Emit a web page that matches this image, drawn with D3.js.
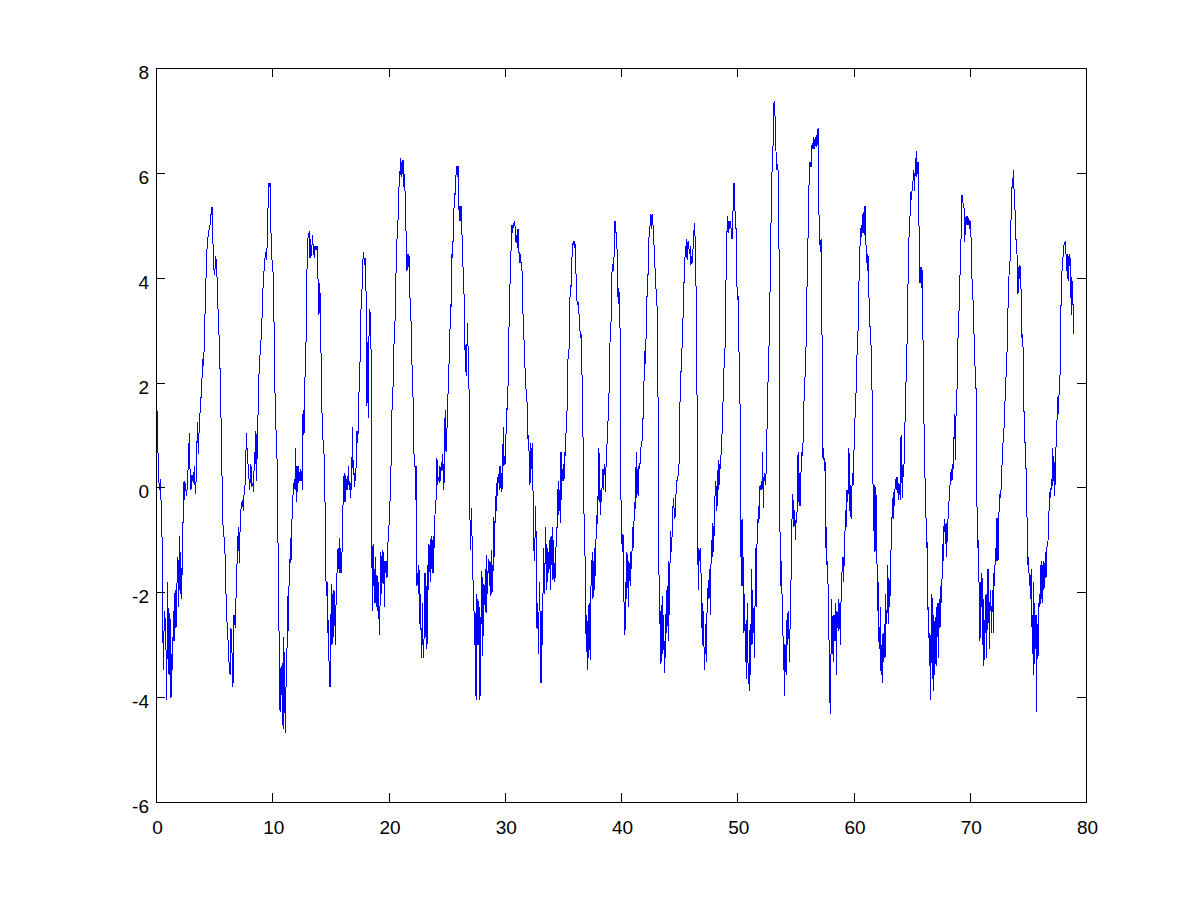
<!DOCTYPE html>
<html>
<head>
<meta charset="utf-8">
<script src="https://cdn.jsdelivr.net/npm/d3@7"></script>
<style>
  html, body { margin: 0; padding: 0; background: #fff; }
  svg { display: block; }
  .tick text { font-family: "Liberation Sans", Arial, Helvetica, sans-serif; font-size: 19px; fill: #000; }
</style>
</head>
<body>
<svg id="chart" width="1200" height="901"></svg>
<script>
// ---------------- data ----------------
const xTicks = [0, 10, 20, 30, 40, 50, 60, 70, 80];
const yTicks = [-6, -4, -2, 0, 2, 4, 6, 8];
const xDomain = [0, 80];
const yDomain = [-6, 8];

// time / value pairs, segment 0 - 16
const traceA = [
[0.00,1.80],[0.12,1.32],[0.20,0.32],[0.29,-0.04],[0.40,0.16],[0.46,-0.60],[0.52,-0.96],[0.57,-2.32],[0.63,-3.49],[0.72,-2.36],[0.83,-2.61],[0.92,-4.05],[1.00,-1.80],[1.12,-3.57],[1.20,-2.40],[1.29,-4.01],[1.35,-3.17],[1.43,-3.49],[1.49,-2.36],[1.55,-2.93],[1.64,-1.96],[1.72,-2.69],[1.81,-1.80],[1.89,-1.32],[1.95,-2.28],[2.01,-0.92],[2.07,-2.04],[2.12,-1.24],[2.21,-2.12],[2.27,-1.16],[2.35,-0.44],[2.41,0.12],[2.47,-0.24],[2.52,0.08],[2.64,-0.16],[2.72,0.16],[2.81,0.64],[2.87,1.04],[2.93,0.32],[3.01,-0.04],[3.10,0.24],[3.21,0.08],[3.30,0.40],[3.38,-0.12],[3.47,0.20],[3.56,1.24],[3.64,0.64],[3.73,1.24],[3.84,1.60],[3.93,1.92],[4.02,2.44],[4.10,2.32],[4.16,2.85],[4.24,3.49],[4.36,4.45],[4.45,4.73],[4.53,4.89],[4.62,4.97],[4.70,5.05],[4.76,5.33],[4.82,5.33],[4.88,4.85],[4.96,4.21],[5.05,4.05],[5.13,4.41],[5.22,4.25],[5.31,3.53],[5.39,3.09],[5.48,2.53],[5.56,1.72],[5.65,0.64],[5.74,-0.64],[5.82,-0.88],[5.91,-1.08],[5.99,-1.64],[6.05,-2.36],[6.14,-2.69],[6.22,-3.01],[6.31,-3.49],[6.37,-3.57],[6.45,-2.69],[6.54,-3.17],[6.62,-3.81],[6.71,-2.44],[6.83,-2.69],[6.91,-1.80],[7.00,-1.28],[7.08,-0.76],[7.17,-1.44],[7.26,-0.52],[7.34,-0.36],[7.43,-0.24],[7.51,-0.44],[7.60,0.00],[7.69,0.08],[7.77,1.04],[7.86,0.60],[7.97,0.28],[8.06,-0.04],
[8.17,0.44],[8.23,0.00],[8.32,0.08],[8.40,-0.08],[8.46,0.68],[8.55,0.44],[8.60,1.08],[8.66,0.12],[8.72,1.00],[8.80,1.56],[8.89,2.44],[8.98,2.57],[9.06,2.93],[9.15,3.37],[9.23,4.01],[9.32,4.17],[9.41,4.49],[9.49,4.33],[9.58,4.69],[9.66,5.61],[9.72,5.81],[9.78,5.73],[9.83,5.81],[9.89,4.89],[9.94,4.37],[10.04,4.29],[10.12,3.73],[10.21,2.08],[10.29,1.24],[10.38,0.84],[10.47,-0.04],[10.52,-2.04],[10.61,-3.05],[10.67,-4.29],[10.75,-3.45],[10.81,-3.41],[10.87,-4.53],[10.95,-2.85],[11.00,-4.61],[11.06,-3.13],[11.12,-4.69],[11.21,-3.45],[11.27,-3.09],[11.33,-2.08],[11.38,-2.73],[11.44,-1.88],[11.50,-1.72],[11.56,-0.96],[11.61,-1.44],[11.67,-0.84],[11.73,-0.36],[11.79,-0.12],[11.84,0.00],[11.90,0.16],[11.96,-0.04],[12.01,0.76],[12.07,-0.28],[12.13,0.40],[12.19,-0.08],[12.27,0.40],[12.36,0.12],[12.42,0.36],[12.47,0.12],[12.53,0.32],[12.59,-0.04],[12.65,1.48],[12.73,1.00],[12.82,2.12],[12.90,2.69],[12.99,4.17],[13.05,4.73],[13.10,4.77],[13.19,4.89],[13.25,4.37],[13.31,4.73],[13.39,4.41],[13.45,4.81],[13.54,4.53],[13.62,4.37],[13.68,4.61],[13.76,4.53],[13.85,4.61],[13.91,4.01],[13.97,3.93],[14.02,3.29],[14.08,3.89],[14.14,3.49],[14.22,2.12],[14.31,1.08],[14.39,0.84],[14.48,0.56],[14.54,-0.28],[14.59,-1.36],[14.65,-2.08],[14.71,-1.80],[14.77,-2.77],[14.82,-2.53],[14.91,-3.65],[14.97,-3.81],[15.03,-3.01],[15.08,-1.84],[15.14,-3.01],[15.20,-2.04],[15.26,-2.85],[15.31,-1.96],[15.37,-2.28],[15.43,-3.01],[15.48,-2.28],[15.57,-1.64],[15.66,-1.16],[15.71,-1.56],[15.77,-0.96],[15.83,-1.64],[15.89,-1.16],[15.94,-1.64],[16.00,-1.24],[16.06,-0.84]
];

// segment 16 - 32.5
const traceB = [
[16.11,0.08],[16.20,0.28],[16.26,-0.28],[16.32,0.24],[16.37,-0.04],[16.43,0.16],[16.49,-0.04],[16.54,0.40],[16.60,0.04],[16.66,0.12],[16.72,-0.20],[16.77,0.08],[16.83,-0.04],[16.89,1.16],[16.95,0.36],[17.00,0.52],[17.06,0.00],[17.12,0.28],[17.18,0.12],[17.23,0.60],[17.29,1.08],[17.35,0.84],[17.41,1.24],[17.46,1.80],[17.55,2.40],[17.63,3.37],[17.72,3.77],[17.81,4.37],[17.86,4.49],[17.92,4.25],[17.98,4.37],[18.04,4.21],[18.09,3.33],[18.15,1.56],[18.21,2.77],[18.27,1.32],[18.32,2.85],[18.38,3.41],[18.44,3.29],[18.49,2.97],[18.55,-0.60],[18.61,-2.36],[18.67,-1.08],[18.72,-1.88],[18.78,-1.56],[18.84,-2.20],[18.90,-1.32],[18.95,-2.28],[19.01,-1.68],[19.07,-2.36],[19.13,-1.80],[19.18,-2.48],[19.24,-2.81],[19.30,-1.72],[19.35,-1.24],[19.41,-2.04],[19.47,-1.20],[19.53,-1.84],[19.58,-1.24],[19.64,-2.28],[19.70,-1.40],[19.76,-1.64],[19.81,-1.40],[19.87,-1.72],[19.93,-1.08],[19.99,-1.00],[20.04,-0.76],[20.10,-0.36],[20.16,-0.16],[20.22,0.44],[20.27,1.08],[20.33,1.80],[20.39,1.92],[20.44,2.32],[20.50,3.05],[20.56,3.17],[20.62,3.97],[20.67,4.21],[20.73,4.73],[20.79,4.89],[20.85,5.33],[20.90,5.73],[20.96,5.77],[21.02,6.29],[21.08,5.93],[21.13,6.21],[21.19,5.97],[21.25,6.25],[21.30,5.73],[21.36,5.97],[21.42,5.65],[21.48,5.33],[21.53,4.49],[21.59,4.13],[21.65,4.45],[21.71,4.21],[21.76,4.45],[21.82,3.97],[21.88,3.25],[21.94,3.17],[21.99,2.61],[22.05,2.12],[22.11,1.72],[22.17,0.80],[22.22,0.48],[22.28,0.40],[22.34,-0.24],[22.39,0.40],[22.45,-1.88],[22.51,-1.64],[22.57,-2.04],[22.62,-1.48],[22.68,-2.61],[22.74,-2.04],[22.80,-2.77],[22.85,-3.25],[22.91,-2.20],[22.97,-3.01],[23.03,-3.25],[23.08,-2.53],[23.14,-1.64],[23.20,-2.85],[23.25,-1.88],[23.31,-3.09],[23.37,-1.48],[23.43,-1.96],[23.48,-1.08],[23.54,-1.40],[23.60,-1.80],[23.66,-0.92],[23.71,-1.56],[23.77,-1.00],[23.83,-1.64],[23.89,-0.92],[23.94,-1.16],[24.00,-0.52],[24.06,-0.28],[24.12,-0.20],[24.17,0.56],[24.23,0.04],[24.29,0.20],
[24.37,0.08],[24.43,0.40],[24.49,0.12],[24.54,0.48],[24.60,0.32],[24.66,0.64],[24.72,0.24],[24.77,-0.04],[24.83,1.16],[24.89,1.48],[24.95,0.68],[25.00,1.04],[25.06,1.20],[25.12,1.80],[25.18,2.32],[25.23,2.40],[25.29,3.01],[25.35,3.49],[25.40,3.45],[25.46,4.45],[25.52,4.37],[25.58,5.01],[25.63,5.29],[25.69,5.61],[25.75,5.57],[25.81,5.97],[25.86,6.13],[25.92,5.93],[25.98,6.13],[26.04,5.53],[26.09,5.09],[26.15,5.37],[26.21,5.09],[26.26,5.37],[26.32,4.85],[26.38,4.33],[26.44,4.09],[26.49,3.77],[26.55,3.09],[26.61,2.20],[26.67,2.73],[26.72,2.12],[26.78,3.13],[26.84,2.69],[26.90,2.20],[26.95,1.60],[27.01,-0.60],[27.07,-1.20],[27.13,-0.40],[27.18,-0.88],[27.24,-1.68],[27.30,-1.84],[27.35,-2.28],[27.41,-3.01],[27.47,-2.40],[27.53,-4.05],[27.58,-2.04],[27.64,-2.20],[27.70,-3.01],[27.76,-2.16],[27.81,-2.40],[27.87,-4.05],[27.93,-2.48],[27.99,-2.61],[28.04,-1.60],[28.10,-3.21],[28.16,-2.48],[28.21,-1.84],[28.27,-2.24],[28.33,-1.56],[28.39,-2.40],[28.44,-1.28],[28.50,-2.04],[28.56,-1.60],[28.62,-1.36],[28.67,-1.88],[28.73,-1.40],[28.79,-2.08],[28.85,-1.20],[28.90,-2.04],[28.96,-1.48],[29.02,-1.60],[29.07,-0.56],[29.13,-1.32],[29.19,-0.16],[29.25,-0.44],[29.30,0.08],[29.36,-0.16],[29.42,0.20],[29.48,0.08],[29.53,0.40],[29.59,-0.04],[29.65,0.40],[29.71,0.12],[29.76,-0.08],[29.82,0.48],[29.88,1.16],[29.93,0.40],[29.99,0.60],[30.05,0.44],[30.11,1.04],[30.16,1.52],[30.22,1.48],[30.28,1.92],[30.34,2.61],[30.39,3.45],[30.45,3.85],[30.51,4.45],[30.57,4.57],[30.62,5.01],[30.68,4.85],[30.74,5.05],[30.80,5.01],[30.85,5.09],[30.91,4.89],[30.97,4.69],[31.02,4.81],[31.08,4.57],[31.14,4.93],[31.20,4.49],[31.25,4.49],[31.31,4.29],[31.37,4.45],[31.43,4.13],[31.48,4.17],[31.54,3.65],[31.60,3.01],[31.66,2.81],[31.71,2.57],[31.77,2.04],[31.83,1.88],[31.88,1.72],[31.94,1.56],[32.00,0.92],[32.06,1.00],[32.11,0.44],[32.17,0.04],[32.23,0.84],[32.29,0.68],[32.34,0.36],[32.40,0.84],[32.46,-0.96],[32.51,-1.16]
];

// segment 32.5 - 49
const traceC = [
[32.54,-1.40],[32.60,-1.00],[32.66,-0.36],[32.71,-1.16],[32.77,-2.69],[32.83,-2.20],[32.89,-3.17],[32.94,-2.44],[33.00,-1.80],[33.06,-2.77],[33.12,-3.73],[33.17,-2.36],[33.23,-3.01],[33.29,-2.04],[33.35,-1.16],[33.40,-2.04],[33.46,-1.48],[33.52,-0.76],[33.57,-1.96],[33.63,-1.08],[33.69,-1.80],[33.75,-1.24],[33.80,-1.64],[33.86,-1.00],[33.92,-1.96],[33.98,-0.92],[34.03,-1.48],[34.09,-0.76],[34.15,-1.76],[34.21,-1.00],[34.26,-1.80],[34.32,-1.56],[34.38,-1.72],[34.43,-0.76],[34.49,-0.84],[34.55,-0.20],[34.61,0.12],[34.66,-0.52],[34.72,-0.04],[34.78,-0.68],[34.84,0.68],[34.89,-0.24],[34.95,0.36],[35.01,0.12],[35.07,0.44],[35.12,0.16],[35.18,0.68],[35.24,0.60],[35.29,1.32],[35.35,1.36],[35.41,2.36],[35.47,2.53],[35.52,2.53],[35.58,3.33],[35.64,3.85],[35.70,3.81],[35.75,4.29],[35.81,4.45],[35.87,4.65],[35.93,4.69],[35.98,4.57],[36.04,4.69],[36.10,4.21],[36.15,3.97],[36.21,3.57],[36.27,3.49],[36.33,3.53],[36.38,3.33],[36.44,3.17],[36.50,2.85],[36.56,2.93],[36.61,2.20],[36.67,2.12],[36.73,1.00],[36.79,-0.48],[36.84,-0.52],[36.90,-1.24],[36.96,-2.28],[37.01,-3.13],[37.07,-2.44],[37.13,-3.49],[37.19,-2.24],[37.24,-3.25],[37.30,-2.20],[37.36,-3.29],[37.42,-1.88],[37.47,-1.64],[37.53,-1.24],[37.59,-2.12],[37.65,-1.40],[37.70,-1.96],[37.76,-1.16],[37.82,-1.68],[37.87,-0.52],[37.93,-0.76],[37.99,-0.16],[38.05,-0.24],[38.10,0.76],[38.16,0.04],[38.22,-0.52],[38.28,-0.04],[38.33,-0.28],[38.39,0.16],[38.45,0.36],[38.51,-0.04],[38.56,0.44],[38.62,0.32],[38.68,-0.08],[38.73,0.68],[38.79,0.76],[38.85,1.24],[38.91,1.28],[38.96,1.72],[39.02,2.28],[39.08,3.09],[39.14,3.13],[39.19,3.93],[39.25,4.21],[39.31,4.25],[39.37,4.13],[39.42,4.61],[39.48,5.09],[39.54,5.05],[39.60,4.69],[39.65,4.65],[39.71,3.81],[39.77,3.49],[39.82,3.81],[39.88,3.21],[39.94,2.93],[40.00,-0.24],[40.05,-0.80],[40.11,-1.24],[40.17,-0.88],[40.23,-1.52],[40.28,-2.69],[40.34,-2.81],[40.40,-1.80],[40.46,-2.12],[40.51,-1.24],[40.57,-1.48],[40.63,-2.28],[40.68,-1.40],
[40.80,-1.88],[40.86,-1.24],[40.91,-1.56],[40.97,-1.00],[41.03,-0.76],[41.09,-1.16],[41.14,-0.28],[41.20,-0.44],[41.26,-0.12],[41.31,0.68],[41.37,-0.20],[41.43,0.36],[41.49,-0.16],[41.54,0.40],[41.60,0.36],[41.66,0.52],[41.72,0.76],[41.77,0.84],[41.83,0.92],[41.89,1.32],[41.95,1.32],[42.00,2.53],[42.06,2.61],[42.12,2.36],[42.17,3.09],[42.23,3.65],[42.29,3.65],[42.35,4.37],[42.40,4.73],[42.46,4.97],[42.52,5.01],[42.58,5.21],[42.63,4.93],[42.69,5.21],[42.75,5.01],[42.81,4.89],[42.86,4.45],[42.92,4.21],[42.98,3.89],[43.03,3.73],[43.09,3.69],[43.15,2.04],[43.21,1.48],[43.26,-1.48],[43.32,-2.61],[43.38,-2.36],[43.44,-3.37],[43.49,-2.53],[43.55,-2.08],[43.61,-3.17],[43.67,-2.44],[43.72,-3.53],[43.78,-2.93],[43.84,-3.25],[43.89,-1.96],[43.95,-2.77],[44.01,-1.88],[44.07,-2.93],[44.12,-1.40],[44.18,-2.44],[44.24,-0.84],[44.30,-1.24],[44.35,-1.16],[44.41,-0.84],[44.47,-0.36],[44.53,-0.20],[44.58,-0.52],[44.64,-0.60],[44.70,-0.28],[44.75,-0.04],[44.81,0.12],[44.87,0.20],[44.93,0.24],[44.98,0.28],[45.04,1.24],[45.10,1.88],[45.16,2.20],[45.21,2.44],[45.27,2.77],[45.33,3.17],[45.39,3.81],[45.44,3.97],[45.50,4.37],[45.56,4.61],[45.61,4.37],[45.67,4.73],[45.73,4.33],[45.79,4.69],[45.84,4.57],[45.90,4.45],[45.96,4.61],[46.02,4.25],[46.07,4.41],[46.13,4.29],[46.19,4.53],[46.25,4.69],[46.30,5.05],[46.36,4.93],[46.42,3.89],[46.47,3.81],[46.53,2.16],[46.59,-0.80],[46.65,-1.96],[46.70,-1.16],[46.76,-1.40],[46.82,-1.16],[46.88,-1.56],[46.93,-2.69],[46.99,-2.20],[47.05,-3.01],[47.11,-2.36],[47.16,-3.49],[47.22,-3.25],[47.28,-2.61],[47.33,-3.33],[47.39,-2.44],[47.45,-2.12],[47.51,-1.76],[47.56,-2.12],[47.62,-1.56],[47.68,-2.44],[47.74,-1.48],[47.79,-1.00],[47.85,-1.32],[47.91,-0.68],[47.97,-1.24],[48.02,-0.76],[48.08,-0.20],[48.14,0.12],[48.20,-0.04],[48.25,-0.44],[48.31,0.08],[48.37,0.52],[48.42,-0.04],[48.48,0.44],[48.54,0.36],[48.60,0.60],[48.65,0.92],[48.71,1.08],[48.77,1.56],[48.83,2.20],[48.88,2.32],[48.94,2.36]
];

// segment 49 - 65.3
const traceD = [
[48.98,3.89],[49.04,3.97],[49.09,4.61],[49.15,5.17],[49.21,4.85],[49.27,5.09],[49.32,4.93],[49.38,5.09],[49.44,4.97],[49.49,4.93],[49.55,4.73],[49.61,5.01],[49.67,5.61],[49.72,5.81],[49.78,5.57],[49.84,4.93],[49.90,4.93],[49.95,4.09],[50.01,3.57],[50.07,3.65],[50.13,2.61],[50.18,2.53],[50.24,1.56],[50.30,-0.84],[50.35,-1.88],[50.41,-0.60],[50.47,-1.88],[50.53,-1.32],[50.58,-2.77],[50.64,-2.04],[50.70,-3.33],[50.76,-2.53],[50.81,-3.65],[50.87,-2.20],[50.93,-3.41],[50.99,-3.65],[51.04,-3.89],[51.10,-2.69],[51.16,-3.57],[51.21,-1.56],[51.27,-3.01],[51.33,-1.96],[51.39,-2.77],[51.44,-2.69],[51.50,-3.25],[51.56,-1.16],[51.62,-2.28],[51.67,-1.56],[51.73,-0.60],[51.79,-0.68],[51.85,-0.36],[51.90,-0.60],[51.96,0.04],[52.02,-0.04],[52.07,0.12],[52.13,-0.04],[52.19,0.68],[52.25,-0.40],[52.30,0.12],[52.36,0.28],[52.42,0.04],[52.48,0.28],[52.53,0.76],[52.59,1.48],[52.65,2.04],[52.71,2.04],[52.76,3.49],[52.82,3.73],[52.88,4.61],[52.93,5.49],[52.99,6.01],[53.05,6.05],[53.11,7.09],[53.16,7.33],[53.22,7.37],[53.28,6.77],[53.34,6.37],[53.39,6.05],[53.45,6.17],[53.51,6.05],[53.57,5.81],[53.62,2.93],[53.68,-0.92],[53.74,-1.88],[53.80,-1.40],[53.85,-2.04],[53.91,-2.32],[53.97,-3.49],[54.02,-2.93],[54.08,-3.97],[54.14,-3.01],[54.20,-3.57],[54.25,-2.53],[54.31,-3.01],[54.37,-2.36],[54.43,-2.53],[54.48,-3.33],[54.54,-2.69],[54.60,-2.36],[54.66,-0.92],[54.71,-0.60],[54.77,-0.12],[54.83,-0.36],[54.88,-0.76],[54.94,-0.44],[55.00,-1.00],[55.06,-0.60],[55.11,-0.68],[55.17,-0.28],[55.23,0.68],[55.29,-0.28],[55.34,0.28],[55.40,-0.36],[55.46,0.20],[55.52,0.44],[55.57,0.68],[55.63,0.60],[55.69,1.16],[55.74,1.64],[55.80,1.72],[55.86,2.53],[55.92,2.69],[55.97,3.33],[56.03,4.29],[56.09,4.77],[56.15,5.57],[56.20,5.97],[56.26,6.21],[56.32,6.13],[56.38,6.13],[56.43,6.53],[56.49,6.45],[56.55,6.69],[56.60,6.45],[56.66,6.61],[56.72,6.69],[56.78,6.49],[56.83,6.73],[56.89,6.53],[56.95,6.85],[57.01,5.57],[57.06,4.77],
[57.09,4.77],[57.15,4.49],[57.21,4.73],[57.26,4.01],[57.32,1.88],[57.38,0.52],[57.44,0.76],[57.49,0.32],[57.55,0.48],[57.61,-1.16],[57.66,-0.76],[57.72,-1.48],[57.78,-1.40],[57.84,-2.36],[57.89,-2.85],[57.95,-3.89],[58.01,-4.33],[58.07,-3.09],[58.12,-2.12],[58.18,-3.17],[58.24,-2.44],[58.30,-3.33],[58.35,-2.44],[58.41,-2.93],[58.47,-2.20],[58.52,-3.57],[58.58,-2.36],[58.64,-2.69],[58.70,-2.12],[58.75,-2.73],[58.81,-2.20],[58.87,-3.01],[58.93,-2.12],[58.98,-1.88],[59.04,-1.40],[59.10,-1.32],[59.16,-1.80],[59.21,-1.16],[59.27,-0.84],[59.33,-0.44],[59.38,-0.76],[59.44,-0.04],[59.50,-0.28],[59.56,0.04],[59.61,0.76],[59.67,-0.44],[59.73,0.04],[59.79,-0.60],[59.84,-0.28],[59.90,0.28],[59.96,0.04],[60.02,0.68],[60.07,0.76],[60.13,1.32],[60.19,1.64],[60.24,1.96],[60.30,2.53],[60.36,2.69],[60.42,3.33],[60.47,3.89],[60.53,4.45],[60.59,4.77],[60.65,4.97],[60.70,4.77],[60.76,5.21],[60.82,4.85],[60.88,5.25],[60.93,4.81],[60.99,5.37],[61.05,5.01],[61.10,4.29],[61.16,4.45],[61.22,4.13],[61.28,4.41],[61.33,3.65],[61.39,3.09],[61.45,3.05],[61.51,2.69],[61.56,1.88],[61.62,1.84],[61.68,0.04],[61.74,-0.84],[61.79,0.04],[61.85,-1.24],[61.91,0.00],[61.96,-0.28],[62.02,-1.40],[62.08,-2.36],[62.14,-1.80],[62.19,-2.93],[62.25,-3.09],[62.31,-2.28],[62.37,-3.57],[62.42,-3.01],[62.48,-3.73],[62.54,-2.77],[62.60,-3.33],[62.65,-2.61],[62.71,-3.25],[62.77,-2.04],[62.82,-2.61],[62.88,-2.44],[62.94,-1.48],[63.00,-2.61],[63.05,-1.72],[63.11,-2.28],[63.17,-1.88],[63.23,-1.16],[63.28,-1.00],[63.34,-0.20],[63.40,-0.60],[63.46,-0.08],[63.51,-0.36],[63.57,-0.04],[63.63,0.16],[63.69,-0.04],[63.74,0.20],[63.80,0.04],[63.86,-0.24],[63.91,0.08],[63.97,-0.04],[64.03,-0.24],[64.09,1.00],[64.14,0.44],[64.20,-0.20],[64.26,0.44],[64.32,0.20],[64.37,0.68],[64.43,1.24],[64.49,1.72],[64.55,2.36],[64.60,2.69],[64.66,3.49],[64.72,4.29],[64.77,4.77],[64.83,4.85],[64.89,5.45],[64.95,5.65],[65.00,5.49],[65.06,5.77],[65.12,5.85],[65.18,6.05],[65.23,5.69]
];

// segment 65.3 - 79
const traceE = [
[65.26,5.65],[65.32,6.29],[65.38,5.93],[65.43,6.41],[65.49,5.97],[65.55,6.21],[65.61,5.65],[65.66,4.37],[65.72,3.89],[65.78,4.21],[65.83,3.81],[65.89,4.21],[65.95,3.17],[66.01,2.44],[66.06,1.32],[66.12,0.20],[66.18,0.16],[66.24,-0.60],[66.29,-1.16],[66.35,-1.04],[66.41,-2.36],[66.47,-2.28],[66.52,-3.41],[66.58,-2.77],[66.64,-4.05],[66.69,-2.77],[66.75,-2.04],[66.81,-3.41],[66.87,-3.89],[66.92,-2.44],[66.98,-3.57],[67.04,-2.48],[67.10,-3.41],[67.15,-2.28],[67.21,-2.85],[67.27,-2.20],[67.33,-3.25],[67.38,-2.12],[67.44,-2.69],[67.50,-1.88],[67.55,-2.20],[67.61,-1.80],[67.67,-1.08],[67.73,-1.40],[67.78,-0.76],[67.84,-0.60],[67.90,-1.08],[67.96,-0.68],[68.01,-1.32],[68.07,-0.84],[68.13,-0.60],[68.19,-0.52],[68.24,-0.04],[68.30,0.04],[68.36,0.20],[68.41,0.36],[68.47,0.12],[68.53,0.44],[68.59,0.36],[68.64,0.92],[68.70,1.40],[68.76,0.52],[68.82,1.40],[68.87,1.64],[68.93,2.04],[68.99,2.85],[69.05,3.33],[69.10,3.41],[69.16,4.05],[69.22,4.13],[69.27,5.17],[69.33,5.57],[69.39,5.53],[69.45,5.33],[69.50,5.41],[69.56,4.69],[69.62,4.93],[69.68,5.17],[69.73,5.01],[69.79,5.17],[69.85,5.01],[69.91,5.13],[69.96,5.09],[70.02,4.93],[70.08,5.09],[70.13,4.53],[70.19,4.01],[70.25,3.65],[70.31,3.49],[70.36,2.93],[70.42,2.85],[70.48,1.88],[70.54,1.88],[70.59,0.76],[70.65,-1.16],[70.71,-1.00],[70.77,-1.32],[70.82,-2.20],[70.88,-2.93],[70.94,-1.80],[70.99,-2.28],[71.05,-1.64],[71.11,-3.01],[71.17,-2.12],[71.22,-3.41],[71.28,-2.53],[71.34,-2.77],[71.40,-2.04],[71.45,-3.25],[71.51,-2.36],[71.57,-1.56],[71.63,-1.96],[71.68,-3.09],[71.74,-2.20],[71.80,-1.96],[71.86,-2.77],[71.91,-2.28],[71.97,-1.96],[72.03,-2.77],[72.08,-1.64],[72.14,-1.88],[72.20,-1.16],[72.26,-1.40],[72.31,-0.60],[72.37,-0.60],[72.43,-1.40],[72.49,-0.68],[72.54,-0.28],[72.60,-0.12],[72.66,-0.20],[72.72,0.12],[72.77,0.40],[72.83,0.60],[72.89,1.08],[72.94,1.08],[73.00,1.56],[73.06,1.72],[73.12,2.12],[73.17,2.20],[73.23,2.85],[73.29,3.41],[73.35,3.73],[73.40,4.29],
[73.46,4.29],[73.52,4.73],[73.57,5.37],[73.63,5.73],[73.69,5.73],[73.75,6.05],[73.80,5.73],[73.86,5.33],[73.92,5.25],[73.98,4.73],[74.03,4.73],[74.09,4.25],[74.15,3.69],[74.21,4.21],[74.26,3.97],[74.32,4.25],[74.38,3.81],[74.43,3.77],[74.49,2.85],[74.55,2.93],[74.61,2.44],[74.66,1.44],[74.72,1.44],[74.78,0.40],[74.84,0.36],[74.89,-0.16],[74.95,-0.84],[75.01,-1.48],[75.07,-1.32],[75.12,-1.88],[75.18,-1.64],[75.24,-2.12],[75.29,-1.56],[75.35,-2.61],[75.41,-3.17],[75.47,-1.80],[75.52,-3.57],[75.58,-2.20],[75.64,-3.09],[75.70,-2.44],[75.75,-4.29],[75.81,-2.61],[75.87,-3.25],[75.93,-2.44],[75.98,-2.04],[76.04,-2.28],[76.10,-1.48],[76.16,-2.12],[76.21,-1.40],[76.27,-2.20],[76.33,-1.40],[76.38,-1.96],[76.44,-1.72],[76.50,-1.24],[76.56,-1.72],[76.61,-1.24],[76.67,-1.08],[76.73,-1.04],[76.79,-0.56],[76.84,-0.36],[76.90,-0.08],[76.96,-0.20],[77.02,0.16],[77.07,-0.04],[77.13,0.76],[77.19,0.12],[77.24,0.60],[77.30,-0.16],[77.36,0.20],[77.42,0.76],[77.47,1.08],[77.53,1.40],[77.59,1.72],[77.65,1.40],[77.70,2.00],[77.76,2.04],[77.82,3.29],[77.88,3.65],[77.93,4.09],[77.99,4.37],[78.05,4.41],[78.10,4.61],[78.16,4.65],[78.22,4.69],[78.28,4.45],[78.33,4.37],[78.39,3.97],[78.45,4.45],[78.51,3.93],[78.56,4.45],[78.62,4.41],[78.68,3.97],[78.74,3.29],[78.79,4.01],[78.85,3.49],[78.91,3.49],[78.96,2.93]
];

const trace = traceA.concat(traceB, traceC, traceD, traceE);

// ---------------- layout ----------------
const W = 1200, H = 901;
const plot = { left: 156, right: 1086, top: 68, bottom: 802 };
const tickLen = 9;
const fmt = d => String(d); // plain hyphen-minus like the reference

const svg = d3.select("#chart");
svg.append("rect").attr("x", 0).attr("y", 0).attr("width", W).attr("height", H).attr("fill", "#fff");

const x = d3.scaleLinear().domain(xDomain).range([plot.left, plot.right]);
const y = d3.scaleLinear().domain(yDomain).range([plot.bottom, plot.top]);

// data line (aliased, pure blue like the reference)
const line = d3.line().x(d => x(d[0])).y(d => y(d[1]));
svg.append("path")
  .datum(trace)
  .attr("d", line)
  .attr("fill", "none")
  .attr("stroke", "#0000ff")
  .attr("stroke-width", 1)
  .attr("shape-rendering", "crispEdges");

// axes (ticks point inward, mirrored on top / right)
function styleAxis(g) {
  g.select(".domain").remove();
  g.selectAll(".tick line").attr("stroke", "#000").attr("shape-rendering", "crispEdges");
}

const gBottom = svg.append("g")
  .attr("transform", `translate(0,${plot.bottom})`)
  .call(d3.axisBottom(x).tickValues(xTicks).tickFormat(fmt).tickSize(-tickLen).tickPadding(0));
styleAxis(gBottom);
gBottom.selectAll(".tick text").attr("y", 32).attr("dy", 0).attr("dx", 1);

svg.append("g")
  .attr("transform", `translate(0,${plot.top})`)
  .call(d3.axisTop(x).tickValues(xTicks).tickFormat("").tickSize(-tickLen))
  .call(styleAxis);

const gLeft = svg.append("g")
  .attr("transform", `translate(${plot.left},0)`)
  .call(d3.axisLeft(y).tickValues(yTicks).tickFormat(fmt).tickSize(-tickLen).tickPadding(0));
styleAxis(gLeft);
gLeft.selectAll(".tick text").attr("x", -7).attr("dy", 10.5).attr("text-anchor", "end");

svg.append("g")
  .attr("transform", `translate(${plot.right},0)`)
  .call(d3.axisRight(y).tickValues(yTicks).tickFormat("").tickSize(-tickLen))
  .call(styleAxis);

// box
svg.append("rect")
  .attr("x", plot.left).attr("y", plot.top)
  .attr("width", plot.right - plot.left).attr("height", plot.bottom - plot.top)
  .attr("fill", "none").attr("stroke", "#000").attr("stroke-width", 1)
  .attr("shape-rendering", "crispEdges");

svg.selectAll(".tick text").attr("fill", "#000");
</script>
</body>
</html>
